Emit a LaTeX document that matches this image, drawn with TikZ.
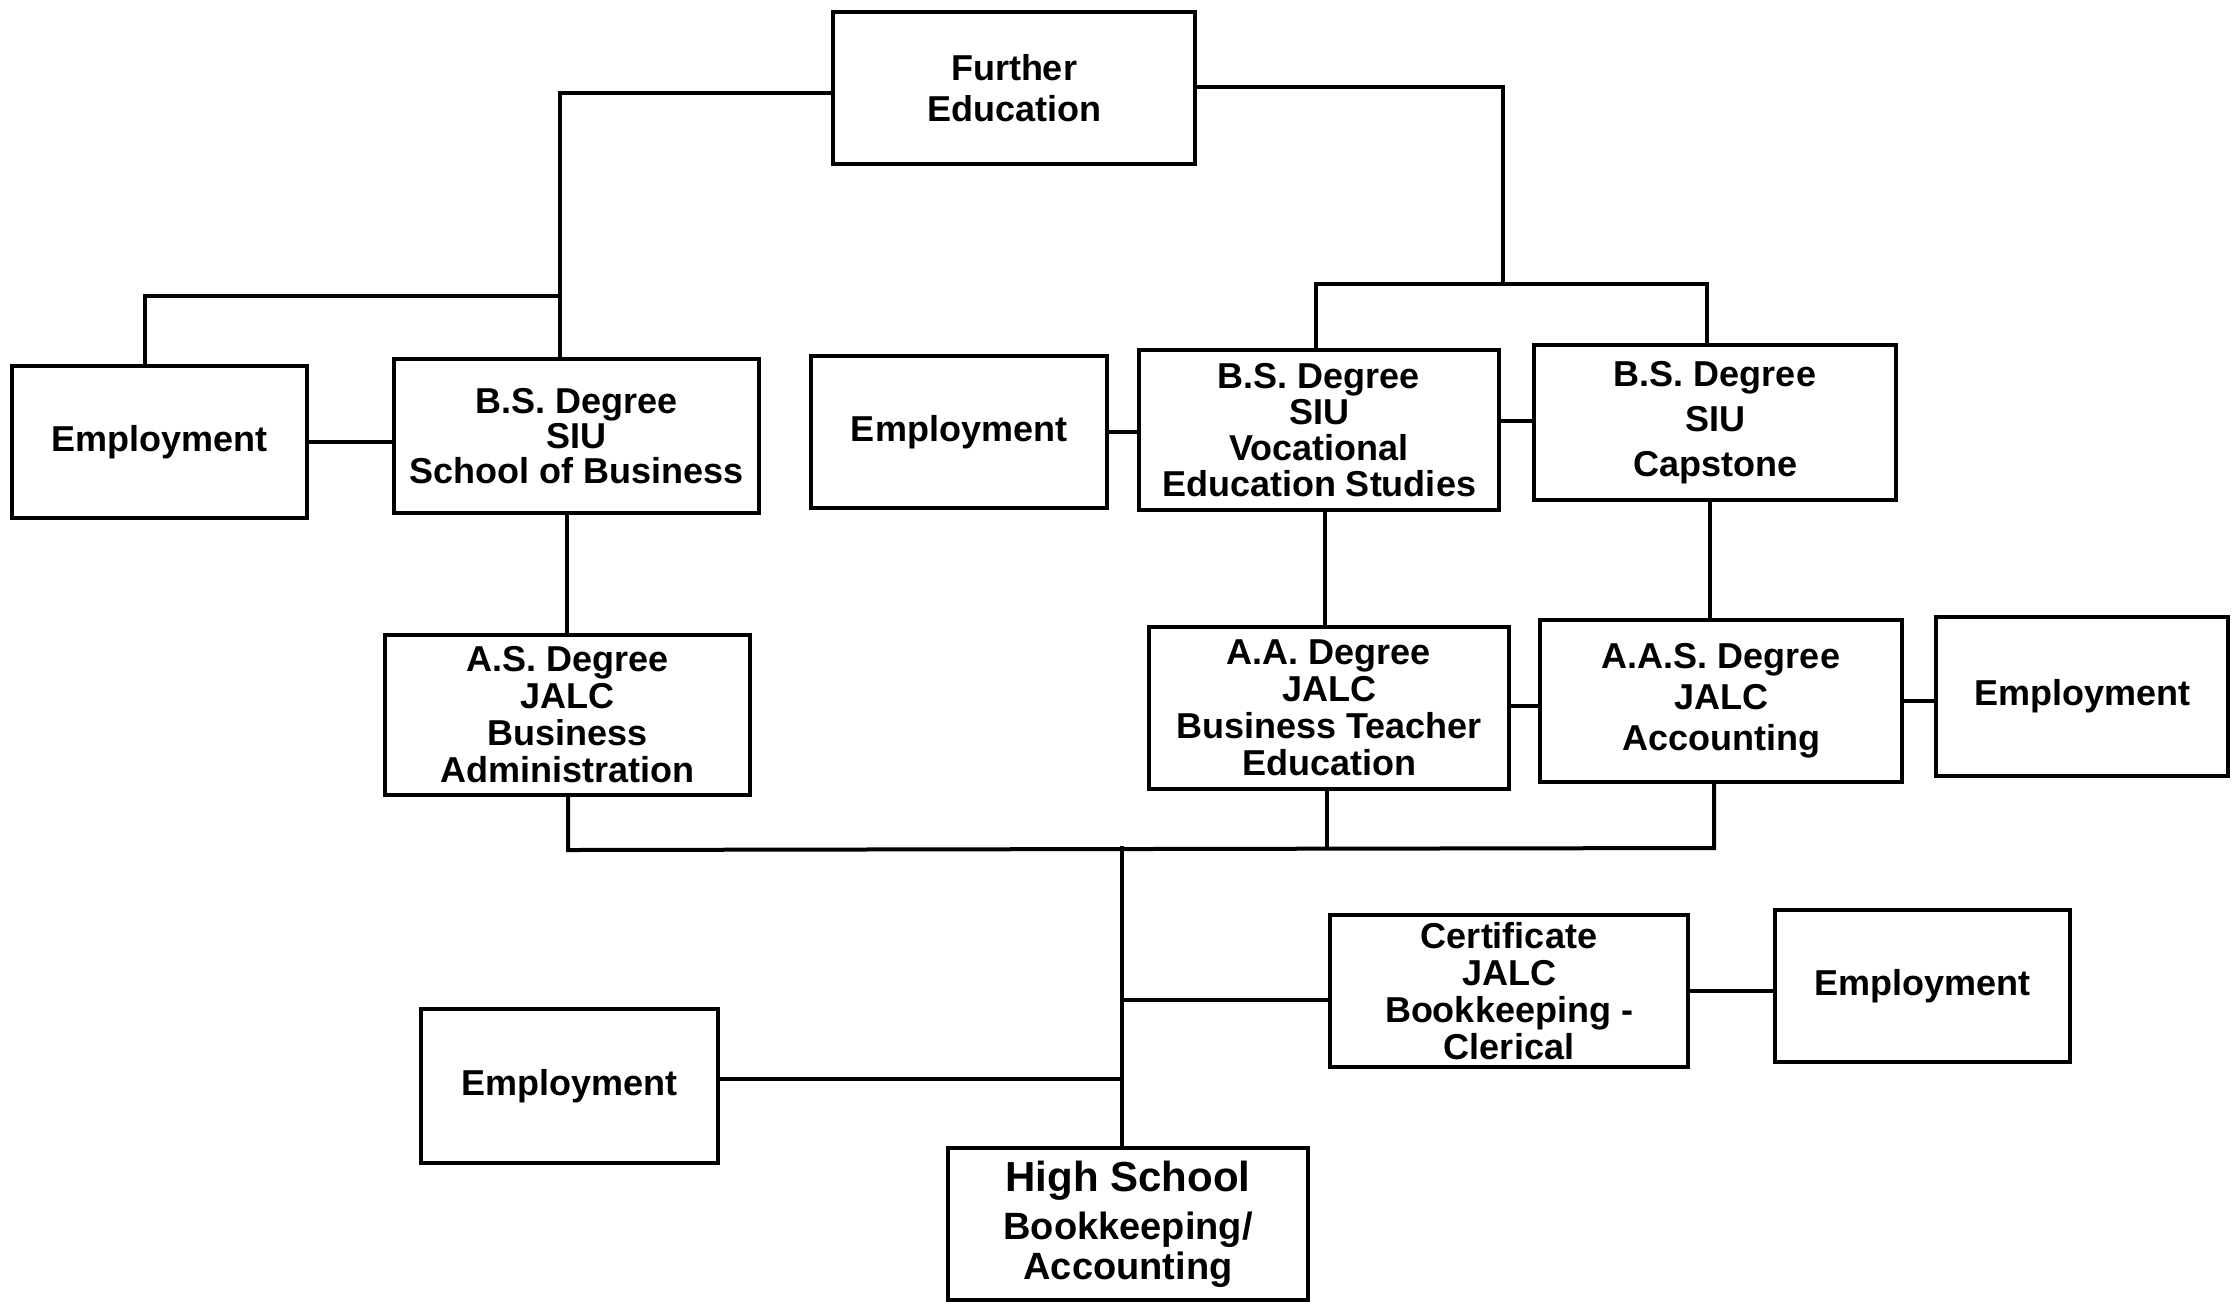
\documentclass[tikz,border=0pt]{standalone}
\usepackage{fontspec}
\setmainfont{Liberation Sans}
\begin{document}
\begin{tikzpicture}[x=0.5pt,y=-0.5pt,
  box/.style={draw, line width=2pt, inner sep=0pt, align=center, fill=white,
    font=\bfseries\fontsize{18}{18.5}\selectfont},
  conn/.style={line width=2pt, line cap=rect}]
\useasboundingbox (0,0) rectangle (2236,1303);
\fill[white] (0,0) rectangle (2236,1303);

% connectors first (boxes drawn on top)
\coordinate (jL) at (560,93);
\coordinate (jLb) at (560,296);
\coordinate (jE1) at (145,296);
\coordinate (jR) at (1503,87);
\coordinate (jRb) at (1503,284);
\coordinate (jV) at (1316,284);
\coordinate (jC) at (1707,284);
\coordinate (yVC) at (1517,421);
\coordinate (xB) at (567,600);
\coordinate (xV) at (1325,560);
\coordinate (xC) at (1710,560);
\coordinate (yAA) at (1520,706);
\coordinate (bL) at (568,850);
\coordinate (bM) at (1327,848);
\coordinate (bR) at (1714,848);
\coordinate (tr) at (1122,848);
\coordinate (yC) at (1200,1000);
\coordinate (yE5) at (900,1079);

% boxes
\node[box, minimum width=181pt, minimum height=76pt, font=\bfseries\fontsize{18}{20.5}\selectfont] (FE) at (1014,88) {Further\\Education};
\node[box, minimum width=147.5pt, minimum height=76pt] (E1) at (159.5,442) {Employment};
\node[box, minimum width=182.5pt, minimum height=77pt, font=\bfseries\fontsize{18}{17.5}\selectfont] (BSB) at (576.5,436) {B.S. Degree\\SIU\\School of Business};
\node[box, minimum width=148pt, minimum height=76pt] (E2) at (959,432) {Employment};
\node[box, minimum width=180pt, minimum height=80pt, font=\bfseries\fontsize{18}{18}\selectfont] (BSV) at (1319,430) {B.S. Degree\\SIU\\Vocational\\Education Studies};
\node[box, minimum width=181pt, minimum height=77.5pt, font=\bfseries\fontsize{18}{22.5}\selectfont] (BSC) at (1715,422.5) {B.S. Degree\\SIU\\Capstone};
\node[box, minimum width=182.5pt, minimum height=80pt] (AS) at (567.5,715) {A.S. Degree\\JALC\\Business\\Administration};
\node[box, minimum width=180pt, minimum height=81pt] (AA) at (1329,708) {A.A. Degree\\JALC\\Business Teacher\\Education};
\node[box, minimum width=181pt, minimum height=81pt, font=\bfseries\fontsize{18}{20.5}\selectfont] (AAS) at (1721,701) {A.A.S. Degree\\JALC\\Accounting};
\node[box, minimum width=146pt, minimum height=79.5pt] (E3) at (2082,696.5) {Employment};
\node[box, minimum width=179pt, minimum height=76pt] (Cert) at (1509,991) {Certificate\\JALC\\Bookkeeping -\\Clerical};
\node[box, minimum width=147.5pt, minimum height=76pt] (E4) at (1922.5,986) {Employment};
\node[box, minimum width=148.5pt, minimum height=77pt] (E5) at (569.5,1086) {Employment};
\node[box, minimum width=180pt, minimum height=76pt, font=\bfseries\fontsize{19}{20}\selectfont] (HS) at (1128,1224) {{\fontsize{21}{24}\selectfont High School}\\[4pt]Bookkeeping/\\Accounting};

% connectors
\draw[conn] (jL -| FE.west) -- (jL) -- (jL |- BSB.north);
\draw[conn] (jLb) -- (jE1) -- (jE1 |- E1.north);
\draw[conn] (E1.east) -- (E1.east -| BSB.west);
\draw[conn] (jR -| FE.east) -- (jR) -- (jRb);
\draw[conn] (jV |- BSV.north) -- (jV) -- (jC) -- (jC |- BSC.north);
\draw[conn] (E2.east) -- (E2.east -| BSV.west);
\draw[conn] (BSV.east |- yVC) -- (BSC.west |- yVC);
\draw[conn] (xB |- BSB.south) -- (xB |- AS.north);
\draw[conn] (xV |- BSV.south) -- (xV |- AA.north);
\draw[conn] (xC |- BSC.south) -- (xC |- AAS.north);
\draw[conn] (AA.east |- yAA) -- (AAS.west |- yAA);
\draw[conn] (AAS.east) -- (AAS.east -| E3.west);
\draw[conn] (bL |- AS.south) -- (bL) -- (bR) -- (bR |- AAS.south);
\draw[conn] (bM |- AA.south) -- (bM);
\draw[conn] (tr) -- (tr |- HS.north);
\draw[conn] (tr |- yC) -- (Cert.west |- yC);
\draw[conn] (Cert.east) -- (Cert.east -| E4.west);
\draw[conn] (E5.east |- yE5) -- (tr |- yE5);
\end{tikzpicture}
\end{document}
